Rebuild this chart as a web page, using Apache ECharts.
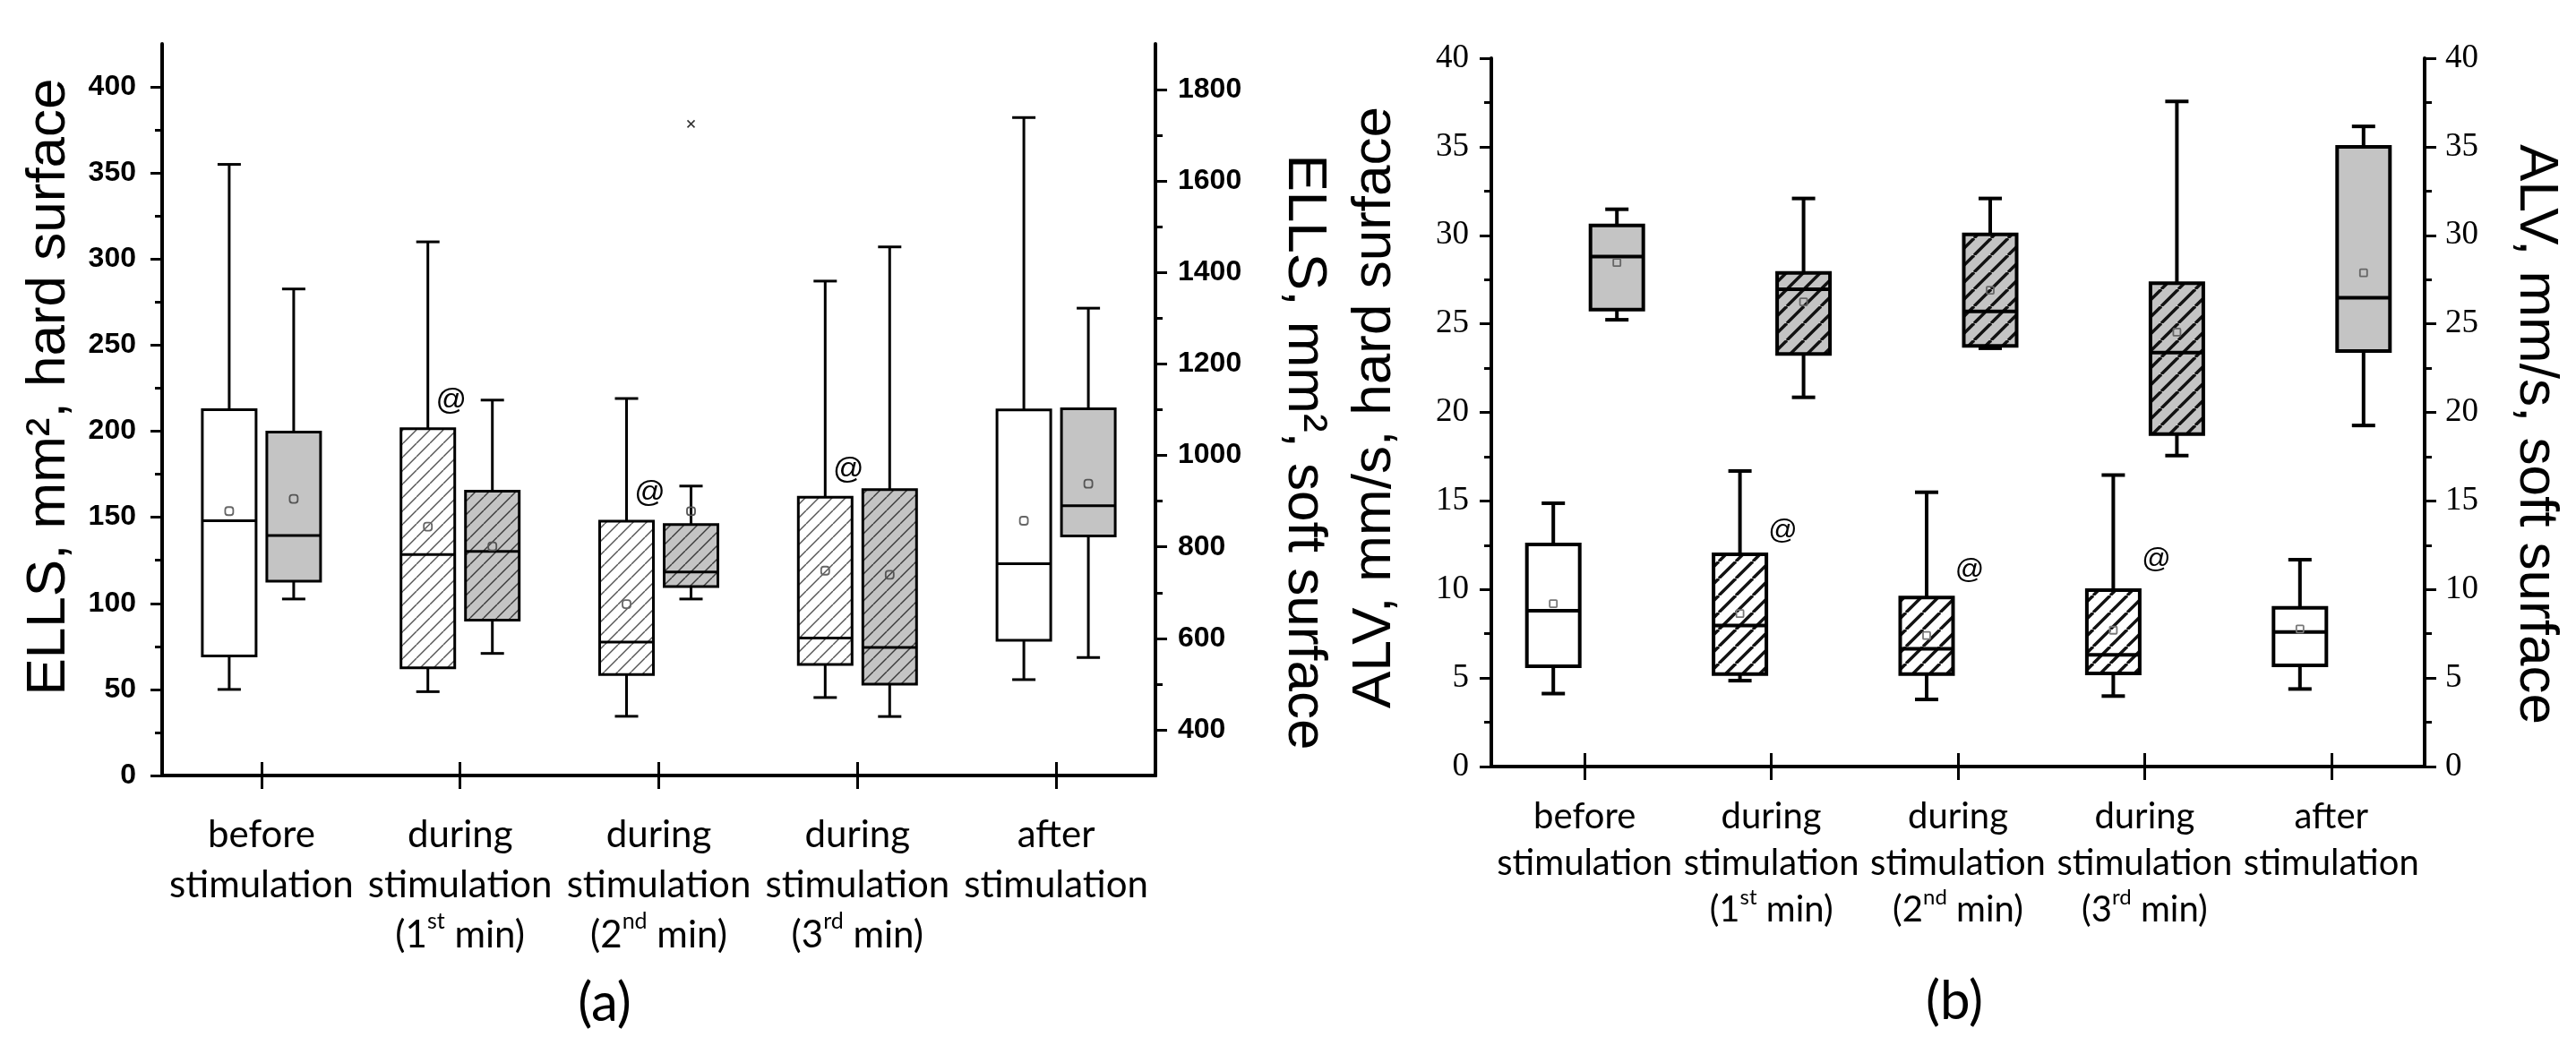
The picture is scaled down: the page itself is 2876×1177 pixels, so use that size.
<!DOCTYPE html>
<html>
<head>
<meta charset="utf-8">
<script src="https://cdn.jsdelivr.net/npm/echarts@6/dist/echarts.min.js"></script>
<style>
html,body{margin:0;padding:0;background:#fff;}
#c{width:2876px;height:1177px;}
</style>
</head>
<body>
<div id="c"></div>
<script>
// ---------------- data ----------------
const categories = [
  'before\nstimulation',
  'during\nstimulation\n(1{sup|st} min)',
  'during\nstimulation\n(2{sup|nd} min)',
  'during\nstimulation\n(3{sup|rd} min)',
  'after\nstimulation'
];
// rows: [whiskerLow, Q1, median, Q3, whiskerHigh, mean]
const ellsHard = [
  [50.0, 69.5, 148.0, 212.5, 355.0, 153.6],
  [48.7, 62.6, 128.4, 201.5, 310.0, 144.6],
  [34.4, 58.6, 77.5, 147.8, 219.0, 99.6],
  [45.3, 64.5, 79.8, 161.6, 287.2, 119.0],
  [55.7, 78.6, 123.0, 212.4, 382.2, 148.0]
];
const ellsSoft = [
  [686, 725, 825, 1051, 1364, 905],
  [567, 640, 790, 922, 1121, 801],
  [686, 713, 745, 849, 933, 878],
  [429, 500, 580, 925, 1456, 739],
  [558, 824, 890, 1102, 1322, 938]
];
const ellsOutliers = [[2, 1725]];           // [category index, value] soft surface
const ellsMarks = [[1, 217.5], [2, 164], [3, 177.6]];   // "@" marks (hard surface axis)
const alvHard = [
  [4.12, 5.66, 8.80, 12.54, 14.87, 9.20],
  [4.85, 5.22, 7.96, 11.98, 16.69, 8.64],
  [3.79, 5.22, 6.65, 9.55, 15.49, 7.40],
  [3.98, 5.26, 6.31, 9.96, 16.46, 7.70],
  [4.38, 5.71, 7.60, 8.96, 11.68, 7.77]
];
const alvSoft = [
  [25.23, 25.80, 28.80, 30.56, 31.47, 28.46],
  [20.85, 23.30, 26.95, 27.88, 32.08, 26.24],
  [23.62, 23.76, 25.70, 30.05, 32.08, 26.90],
  [17.56, 18.78, 23.37, 27.30, 37.56, 24.53],
  [19.26, 23.47, 26.47, 34.99, 36.15, 27.88]
];
const alvMarks = [[1, 13.3], [2, 11.09], [3, 11.68]];
const ellsHardTicks = [0, 50, 100, 150, 200, 250, 300, 350, 400];
const ellsHardMinor = [25, 75, 125, 175, 225, 275, 325, 375];
const ellsSoftTicks = [400, 600, 800, 1000, 1200, 1400, 1600, 1800];
const ellsSoftMinor = [500, 700, 900, 1100, 1300, 1500, 1700];
const hatchedCats = [1, 2, 3];

// ---------------- styles ----------------
function hatch(size, lw, color) {
  const c = document.createElement('canvas');
  c.width = size; c.height = size;
  const ctx = c.getContext('2d');
  ctx.strokeStyle = color; ctx.lineWidth = lw;
  for (let k = -1; k <= 1; k++) {
    ctx.beginPath();
    ctx.moveTo(k * size, size);
    ctx.lineTo(k * size + size, 0);
    ctx.stroke();
  }
  return { image: c, repeat: 'repeat' };
}
const GRAY = '#c4c4c4';
const patA_white = hatch(15, 1.4, '#555');
const patA_gray = hatch(15, 1.4, '#3a3a3a');
const patB = hatch(19, 3.4, '#111');

function boxSeries(rows, xi, yi, cfg) {
  return {
    type: 'custom', xAxisIndex: xi, yAxisIndex: yi, silent: true, z: 5,
    data: rows.map((r, i) => [i].concat(r)),
    encode: { x: 0, y: [1, 2, 3, 4, 5, 6] },
    renderItem: function (params, api) {
      const cat = api.value(0);
      const pt = v => api.coord([cat, v]);
      const x = pt(api.value(1))[0] + cfg.offset;
      const yLow = pt(api.value(1))[1], yQ1 = pt(api.value(2))[1], yMed = pt(api.value(3))[1],
            yQ3 = pt(api.value(4))[1], yHigh = pt(api.value(5))[1], yMean = pt(api.value(6))[1];
      const hw = cfg.boxW / 2, cw = cfg.capW / 2;
      const ls = { stroke: '#000', lineWidth: cfg.lw, fill: 'none' };
      const box = { x: x - hw, y: yQ3, width: 2 * hw, height: yQ1 - yQ3 };
      const ch = [
        { type: 'line', shape: { x1: x, y1: yQ3, x2: x, y2: yHigh }, style: ls },
        { type: 'line', shape: { x1: x, y1: yQ1, x2: x, y2: yLow }, style: ls },
        { type: 'line', shape: { x1: x - cw, y1: yHigh, x2: x + cw, y2: yHigh }, style: ls },
        { type: 'line', shape: { x1: x - cw, y1: yLow, x2: x + cw, y2: yLow }, style: ls },
        { type: 'rect', shape: box, style: { fill: cfg.fill, stroke: 'none' } }
      ];
      if (hatchedCats.indexOf(cat) >= 0) {
        ch.push({ type: 'rect', shape: box, style: { fill: cfg.pattern, stroke: 'none' } });
      }
      ch.push({ type: 'rect', shape: box, style: { fill: 'none', stroke: '#000', lineWidth: cfg.lw } });
      ch.push({ type: 'line', shape: { x1: x - hw, y1: yMed, x2: x + hw, y2: yMed }, style: { stroke: '#000', lineWidth: cfg.medW, fill: 'none' } });
      const m = cfg.meanS;
      ch.push({ type: 'rect', shape: { x: x - m / 2, y: yMean - m / 2, width: m, height: m, r: cfg.meanR },
                style: { fill: 'none', stroke: cfg.meanColor, lineWidth: 1.8 } });
      return { type: 'group', children: ch };
    }
  };
}

function markSeries(rows, xi, yi, offset, size) {
  return {
    type: 'custom', xAxisIndex: xi, yAxisIndex: yi, silent: true, z: 6,
    data: rows,
    renderItem: function (params, api) {
      const p = api.coord([api.value(0), api.value(1)]);
      return { type: 'text', x: p[0] + offset, y: p[1],
        style: { text: '@', fontSize: size, fontFamily: 'Liberation Sans', fill: '#000', align: 'center', verticalAlign: 'middle' } };
    }
  };
}

function outlierSeries(rows, xi, yi, offset) {
  return {
    type: 'custom', xAxisIndex: xi, yAxisIndex: yi, silent: true, z: 6,
    data: rows,
    renderItem: function (params, api) {
      const p = api.coord([api.value(0), api.value(1)]);
      const x = p[0] + offset, y = p[1], s = 4;
      const st = { stroke: '#333', lineWidth: 1.6, fill: 'none' };
      return { type: 'group', children: [
        { type: 'line', shape: { x1: x - s, y1: y - s, x2: x + s, y2: y + s }, style: st },
        { type: 'line', shape: { x1: x - s, y1: y + s, x2: x + s, y2: y - s }, style: st }
      ] };
    }
  };
}

const axisLine = { show: true, lineStyle: { color: '#000', width: 4 } };
const tickStyle = { color: '#000', width: 3 };
const plain = v => String(v);

function xAxes(grid, pos, fs, lh, margin, supFs, supLh) {
  return {
    type: 'category', gridIndex: grid, data: categories, position: pos, boundaryGap: true,
    axisLine: axisLine,
    axisTick: { show: true, alignWithLabel: true, length: 15, lineStyle: tickStyle },
    axisLabel: pos === 'bottom' ? {
      show: true, interval: 0, margin: margin, color: '#000', fontFamily: 'Lato', fontSize: fs, lineHeight: lh,
      rich: { sup: { fontFamily: 'Lato', fontSize: supFs, lineHeight: supLh, verticalAlign: 'top', color: '#000' } }
    } : { show: false },
    splitLine: { show: false }
  };
}

const chart = echarts.init(document.getElementById('c'), null, { renderer: 'canvas' });
const option = {
  backgroundColor: '#fff',
  animation: false,
  grid: [
    { left: 181, top: 49, width: 1109, height: 817, outerBoundsMode: 'none', containLabel: false },
    { left: 1665, top: 65, width: 1042, height: 791, outerBoundsMode: 'none', containLabel: false }
  ],
  xAxis: [
    xAxes(0, 'bottom', 42, 56, 38, 25, 36),
    xAxes(0, 'top'),
    xAxes(1, 'bottom', 40, 52, 30, 24, 34),
    xAxes(1, 'top')
  ],
  yAxis: [
    { type: 'value', gridIndex: 0, position: 'left', min: 0, max: 425, axisLine: axisLine,
      axisTick: { show: true, length: 13, lineStyle: tickStyle, customValues: ellsHardTicks },
      axisLabel: { show: true, customValues: ellsHardTicks, formatter: plain, margin: 29, color: '#000', fontFamily: 'Liberation Sans', fontWeight: 'bold', fontSize: 32 },
      splitLine: { show: false } },
    { type: 'value', gridIndex: 0, position: 'left', min: 0, max: 425, axisLine: { show: false },
      axisTick: { show: true, length: 8, lineStyle: tickStyle, customValues: ellsHardMinor },
      axisLabel: { show: false }, splitLine: { show: false } },
    { type: 'value', gridIndex: 0, position: 'right', min: 300, max: 1900, axisLine: axisLine,
      axisTick: { show: true, length: 13, lineStyle: tickStyle, customValues: ellsSoftTicks },
      axisLabel: { show: true, customValues: ellsSoftTicks, formatter: plain, margin: 25, color: '#000', fontFamily: 'Liberation Sans', fontWeight: 'bold', fontSize: 32 },
      splitLine: { show: false } },
    { type: 'value', gridIndex: 0, position: 'right', min: 300, max: 1900, axisLine: { show: false },
      axisTick: { show: true, length: 8, lineStyle: tickStyle, customValues: ellsSoftMinor },
      axisLabel: { show: false }, splitLine: { show: false } },
    { type: 'value', gridIndex: 1, position: 'left', min: 0, max: 40, interval: 5, axisLine: axisLine,
      axisTick: { show: true, length: 13, lineStyle: tickStyle },
      minorTick: { show: true, splitNumber: 2, length: 8, lineStyle: tickStyle },
      axisLabel: { show: true, formatter: plain, margin: 25, color: '#000', fontFamily: 'Liberation Sans Narrow', fontSize: 37 },
      splitLine: { show: false }, minorSplitLine: { show: false } },
    { type: 'value', gridIndex: 1, position: 'right', min: 0, max: 40, interval: 5, axisLine: axisLine,
      axisTick: { show: true, length: 13, lineStyle: tickStyle },
      minorTick: { show: true, splitNumber: 2, length: 8, lineStyle: tickStyle },
      axisLabel: { show: true, formatter: plain, margin: 23, color: '#000', fontFamily: 'Liberation Sans Narrow', fontSize: 37 },
      splitLine: { show: false }, minorSplitLine: { show: false } }
  ],
  series: [
    boxSeries(ellsHard, 0, 0, { offset: -36, boxW: 60, capW: 26, lw: 3, medW: 3, fill: '#fff', pattern: patA_white, meanS: 9, meanR: 3, meanColor: '#666' }),
    boxSeries(ellsSoft, 0, 2, { offset: 36, boxW: 60, capW: 26, lw: 3, medW: 3, fill: GRAY, pattern: patA_gray, meanS: 9, meanR: 3, meanColor: '#555' }),
    outlierSeries(ellsOutliers, 0, 2, 36),
    markSeries(ellsMarks, 0, 0, -10, 34),
    boxSeries(alvHard, 2, 4, { offset: -35, boxW: 59, capW: 26, lw: 4, medW: 4, fill: '#fff', pattern: patB, meanS: 8, meanR: 1, meanColor: '#777' }),
    boxSeries(alvSoft, 2, 5, { offset: 36, boxW: 59, capW: 26, lw: 4, medW: 4, fill: GRAY, pattern: patB, meanS: 8, meanR: 1, meanColor: '#666' }),
    markSeries(alvMarks, 2, 4, 13, 32)
  ],
  graphic: [
    { type: 'text', x: 55, y: 432, rotation: Math.PI / 2, silent: true,
      style: { text: 'ELLS, mm², hard surface', fontSize: 62, fontFamily: 'Liberation Sans', fill: '#000', align: 'center', verticalAlign: 'middle' } },
    { type: 'text', x: 1456, y: 505, rotation: -Math.PI / 2, silent: true,
      style: { text: 'ELLS, mm², soft surface', fontSize: 62, fontFamily: 'Liberation Sans', fill: '#000', align: 'center', verticalAlign: 'middle' } },
    { type: 'text', x: 1535, y: 455, rotation: Math.PI / 2, silent: true,
      style: { text: 'ALV, mm/s, hard surface', fontSize: 62, fontFamily: 'Liberation Sans', fill: '#000', align: 'center', verticalAlign: 'middle' } },
    { type: 'text', x: 2831, y: 485, rotation: -Math.PI / 2, silent: true,
      style: { text: 'ALV, mm/s, soft surface', fontSize: 62, fontFamily: 'Liberation Sans', fill: '#000', align: 'center', verticalAlign: 'middle' } },
    { type: 'text', x: 675, y: 1121, silent: true,
      style: { text: '(a)', fontSize: 60, fontFamily: 'Lato', fill: '#000', align: 'center', verticalAlign: 'middle' } },
    { type: 'text', x: 2182, y: 1119, silent: true,
      style: { text: '(b)', fontSize: 60, fontFamily: 'Lato', fill: '#000', align: 'center', verticalAlign: 'middle' } }
  ]
};
chart.setOption(option);
</script>
</body>
</html>
